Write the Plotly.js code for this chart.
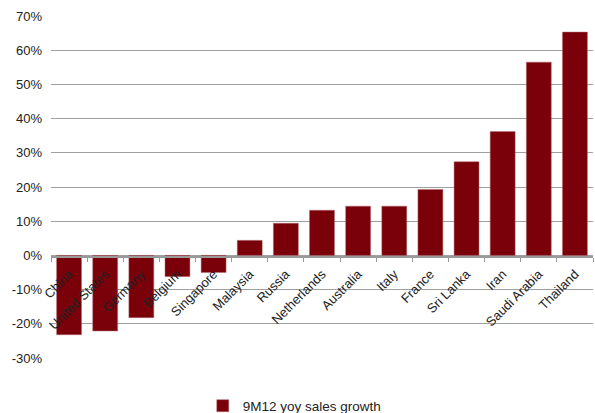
<!DOCTYPE html>
<html>
<head>
<meta charset="utf-8">
<script src="https://cdn.plot.ly/plotly-3.0.1.min.js"></script>
<style>html,body{margin:0;padding:0;background:#fff;}#chart{width:595px;height:413px;}</style>
</head>
<body>
<div id="chart"></div>
<script>
const countries = ["China","United States","Germany","Belgium","Singapore","Malaysia","Russia","Netherlands","Australia","Italy","France","Sri Lanka","Iran","Saudi Arabia","Thailand"];
const growth = [-23.2,-22.1,-18.2,-6.2,-5.0,4.4,9.4,13.2,14.4,14.4,19.3,27.4,36.2,56.5,65.3];
const seriesName = "9M12 yoy sales growth";
const yTicks = [-30,-20,-10,0,10,20,30,40,50,60,70];

const trace = {
  type: "bar",
  x: countries,
  y: growth,
  name: seriesName,
  showlegend: true,
  marker: {color: "#7a0009", line: {color: "#b06a70", width: 0.5}},
  hoverinfo: "x+y"
};

const layout = {
  width: 595, height: 413,
  margin: {l: 51, r: 2, t: 16, b: 55, autoexpand: false},
  paper_bgcolor: "#fff", plot_bgcolor: "#fff",
  font: {family: "Liberation Sans, Arial, sans-serif", size: 13, color: "#222"},
  bargap: 0.31,
  xaxis: {
    type: "category",
    anchor: "free",
    position: 0.2982,
    tickangle: -45,
    ticks: "outside",
    tickson: "boundaries",
    ticklen: 4,
    tickcolor: "#999",
    showline: true,
    linecolor: "#999",
    linewidth: 1.5,
    showgrid: false,
    zeroline: false,
    ticklabelstandoff: 4,
    tickfont: {size: 13, color: "#222"}
  },
  yaxis: {
    range: [-30, 70],
    tickvals: yTicks,
    ticktext: yTicks.map(v => v + "%"),
    showgrid: true,
    gridcolor: "#a0a0a0",
    gridwidth: 1,
    zeroline: false,
    showline: false,
    ticks: "",
    ticklabelstandoff: 8,
    tickfont: {size: 13, color: "#222"}
  },
  legend: {
    orientation: "h",
    x: 0.28, xanchor: "left",
    y: -0.14, yanchor: "middle",
    font: {size: 13.5, color: "#222"},
    itemwidth: 30
  }
};

Plotly.newPlot("chart", [trace], layout, {displayModeBar: false, staticPlot: true});
</script>
</body>
</html>
